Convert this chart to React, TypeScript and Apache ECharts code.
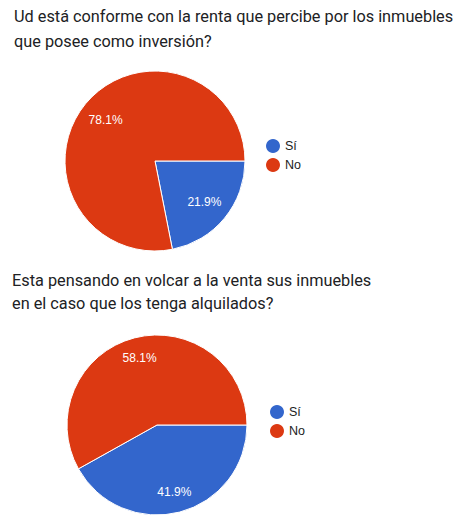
import { useEffect, useRef } from "react";
import * as echarts from "echarts";

const titles = [
  "Ud está conforme con la renta que percibe por los inmuebles\nque posee como inversión?",
  "Esta pensando en volcar a la venta sus inmuebles\nen el caso que los tenga alquilados?",
];
const answers = ["Sí", "No"];
const colors = ["#3366cc", "#dc3912"];
const pie1Values = [21.9, 78.1];
const pie2Values = [41.9, 58.1];

const labelFont = "Arial, 'Liberation Sans', sans-serif";

function pieSeries(center: [number, number], values: number[], labelInner: number) {
  const data = answers.map((name, i) => ({ name, value: values[i] }));
  return [
    {
      type: "pie", center, radius: [0, 90], startAngle: 0, clockwise: true, silent: true,
      data: data.map((d, i) => ({ ...d, itemStyle: { color: colors[i] } })),
      itemStyle: { borderColor: "#ffffff", borderWidth: 1 },
      label: { show: false }, labelLine: { show: false },
    },
    {
      // transparent ring that carries the labels further out than the default
      type: "pie", center, radius: [labelInner, 90], startAngle: 0, clockwise: true, silent: true,
      data, itemStyle: { color: "transparent" },
      label: { show: true, position: "inside", formatter: "{c}%", color: "#ffffff", fontSize: 12, fontFamily: labelFont },
      labelLine: { show: false },
    },
  ];
}

export default function App() {
  const elRef = useRef<HTMLDivElement>(null);

  useEffect(() => {
    document.body.style.margin = "0";
    if (!elRef.current) return;
    const chart = echarts.init(elRef.current, undefined, { renderer: "svg" });
    const legendData = answers.map((name, i) => ({ name, itemStyle: { color: colors[i], borderWidth: 0 } }));
    const legend = (left: number, top: number) => ({
      orient: "vertical", left, top, padding: 0, data: legendData, icon: "circle",
      itemWidth: 14, itemHeight: 14, itemGap: 5, selectedMode: false,
      textStyle: { color: "#222222", fontSize: 12.5, lineHeight: 14, fontFamily: labelFont },
    });
    const titleStyle = { color: "#202124", fontSize: 16.3, fontWeight: "normal", fontFamily: "Roboto, sans-serif" };
    chart.setOption({
      animation: false,
      backgroundColor: "#ffffff",
      title: [
        { text: titles[0], left: 14, top: 3.5, padding: 0, textStyle: { ...titleStyle, lineHeight: 25 } },
        { text: titles[1], left: 12, top: 268.5, padding: 0, textStyle: { ...titleStyle, lineHeight: 23 } },
      ],
      legend: [legend(266, 139), legend(270, 405)],
      series: [...pieSeries([155, 161], pie1Values, 32), ...pieSeries([157, 425], pie2Values, 42)],
    } as any);
    return () => chart.dispose();
  }, []);

  return <div ref={elRef} style={{ width: 465, height: 530 }} />;
}
